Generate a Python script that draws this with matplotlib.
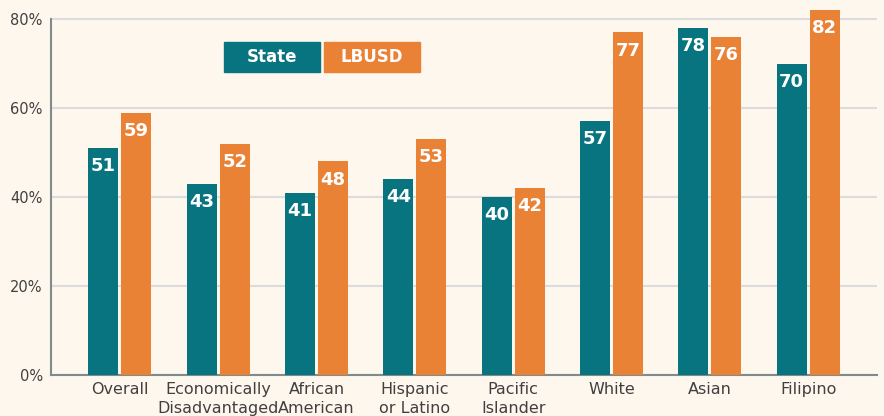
import numpy as np
import matplotlib
matplotlib.use("Agg")
from matplotlib import pyplot as plt
from matplotlib.patches import Rectangle

# percent meeting standard, state vs district
groups = ["Overall", "Economically\nDisadvantaged", "African\nAmerican", "Hispanic\nor Latino",
          "Pacific\nIslander", "White", "Asian", "Filipino"]
state = [51, 43, 41, 44, 40, 57, 78, 70]
lbusd = [59, 52, 48, 53, 42, 77, 76, 82]
yticks = [0, 20, 40, 60, 80]

teal = "#077480"
orange = "#EA8236"
bg = "#FEF7EE"
txt = "#404040"

fig = plt.figure(figsize=(8.84, 4.16), dpi=100, facecolor=bg)
ax = fig.add_axes([51 / 884, 41 / 416, 826 / 884, 375 / 416])
ax.set_facecolor(bg)

x = np.arange(len(groups))
w = 0.305
off = 0.168
b1 = ax.bar(x - off, state, w, color=teal, zorder=3)
b2 = ax.bar(x + off, lbusd, w, color=orange, zorder=3)

for bars, vals in [(b1, state), (b2, lbusd)]:
    for r, v in zip(bars, vals):
        ax.annotate(str(v), (r.get_x() + r.get_width() / 2, v), xytext=(0, -13),
                    textcoords="offset points", ha="center", va="center",
                    color="white", fontsize=13, fontweight="bold", zorder=4)

ax.set_xlim(-0.7, 7.7)
ax.set_ylim(0, 84.3)
ax.set_yticks(yticks)
ax.set_yticklabels([f"{t}%" for t in yticks], fontsize=10.5, color=txt)
ax.set_xticks(x)
ax.set_xticklabels(groups, fontsize=11.5, color=txt, linespacing=1.35)
ax.tick_params(axis="both", length=0)
ax.tick_params(axis="y", pad=6)
ax.tick_params(axis="x", pad=5)
ax.yaxis.grid(True, color="#DCDCDC", linewidth=1.5, zorder=0)
ax.set_axisbelow(True)

for s in ["top", "right"]:
    ax.spines[s].set_visible(False)
for s in ["left", "bottom"]:
    ax.spines[s].set_color("#7F8C8D")
    ax.spines[s].set_linewidth(1.5)
ax.spines["left"].set_bounds(0, 80)

# legend as coloured boxes with white text
for x0, col, lab in [(0.2094, teal, "State"), (0.3305, orange, "LBUSD")]:
    ax.add_patch(Rectangle((x0, 0.808), 0.1162, 0.08, transform=ax.transAxes,
                           color=col, zorder=5, clip_on=False))
    ax.text(x0 + 0.1162 / 2, 0.848, lab, transform=ax.transAxes, ha="center", va="center",
            color="white", fontsize=12, fontweight="bold", zorder=6)

fig.savefig("out.png", dpi=100, facecolor=bg)
